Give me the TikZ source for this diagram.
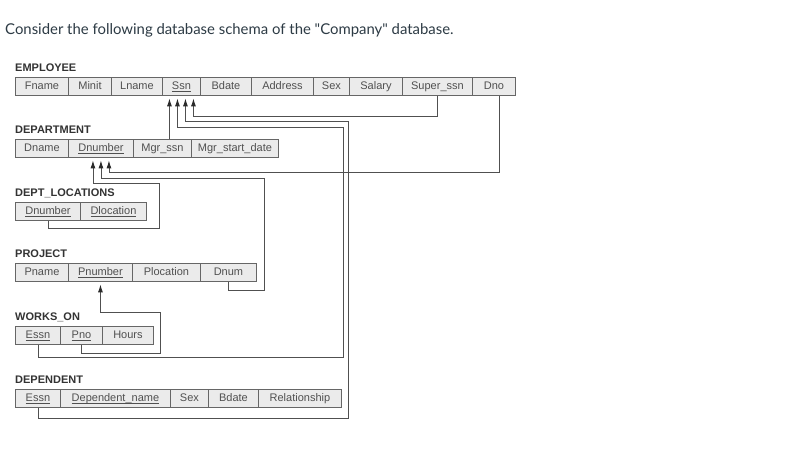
\documentclass[tikz,border=0pt]{standalone}
\usepackage{fontspec}
\setmainfont{Liberation Sans}
\newfontfamily\latofont{Lato}
\usetikzlibrary{arrows.meta,calc}
\definecolor{cellfill}{HTML}{EBEBEB}
\definecolor{cellline}{HTML}{666666}
\definecolor{celltext}{HTML}{505050}
\definecolor{linkcol}{HTML}{505050}
\definecolor{tipcol}{HTML}{2A2A2A}
\definecolor{labcol}{HTML}{333333}
\definecolor{titlecol}{HTML}{2D3B45}
\newcommand\ukey[1]{\setbox0\hbox{#1}\rlap{\rule[-2pt]{\wd0}{0.8pt}}\box0}
\tikzset{
  cell/.style={draw=cellline, fill=cellfill, line width=0.9pt, anchor=north west,
    minimum height=18pt, inner xsep=0pt, inner ysep=0pt, text height=8pt, text depth=1pt,
    font=\fontsize{11}{12}\selectfont, text=celltext},
  tlabel/.style={anchor=base west, inner sep=0pt, font=\fontsize{11}{12}\selectfont\bfseries, text=labcol},
  fk/.style={draw=linkcol, line width=0.9pt},
  fkarrow/.style={fk, -{Latex[length=8pt,width=5pt,color=tipcol]}, shorten >=2.5pt},
}
\begin{document}
\begin{tikzpicture}[x=1pt,y=-1pt]
\useasboundingbox[fill=white] (0,0) rectangle (798,475);
\node[anchor=base west, inner sep=0pt, font=\latofont\fontsize{14.9}{17}\selectfont, text=titlecol] (title) at (5,34) {Consider the following database schema of the "Company" database.};

% EMPLOYEE
\node[tlabel] (lemp) at (15,71) {EMPLOYEE};
\node[cell, minimum width=53pt] (efname) at (15,77) {Fname};
\node[cell, minimum width=43pt] (eminit) at (68,77) {Minit};
\node[cell, minimum width=51pt] (elname) at (111,77) {Lname};
\node[cell, minimum width=38pt] (essn) at (162,77) {\ukey{Ssn}};
\node[cell, minimum width=51pt] (ebdate) at (200,77) {Bdate};
\node[cell, minimum width=62pt] (eaddr) at (251,77) {Address};
\node[cell, minimum width=36pt] (esex) at (313,77) {Sex};
\node[cell, minimum width=53pt] (esal) at (349,77) {Salary};
\node[cell, minimum width=70pt] (esuper) at (402,77) {Super\_ssn};
\node[cell, minimum width=43pt] (edno) at (472,77) {Dno};

% DEPARTMENT
\node[tlabel] (ldep) at (15,133) {DEPARTMENT};
\node[cell, minimum width=53pt] (ddname) at (15,139) {Dname};
\node[cell, minimum width=65pt] (ddnum) at (68,139) {\ukey{Dnumber}};
\node[cell, minimum width=58pt] (dmgr) at (133,139) {Mgr\_ssn};
\node[cell, minimum width=87pt] (dstart) at (191,139) {Mgr\_start\_date};

% DEPT_LOCATIONS
\node[tlabel] (lloc) at (15,196) {DEPT\_LOCATIONS};
\node[cell, minimum width=65pt] (ldnum) at (15,202) {\ukey{Dnumber}};
\node[cell, minimum width=66pt] (lloca) at (80,202) {\ukey{Dlocation}};

% PROJECT
\node[tlabel] (lproj) at (15,257) {PROJECT};
\node[cell, minimum width=53pt] (ppname) at (15,263) {Pname};
\node[cell, minimum width=64pt] (ppnum) at (68,263) {\ukey{Pnumber}};
\node[cell, minimum width=68pt] (ploc) at (132,263) {Plocation};
\node[cell, minimum width=56pt] (pdnum) at (200,263) {Dnum};

% WORKS_ON
\node[tlabel] (lworks) at (15,320) {WORKS\_ON};
\node[cell, minimum width=45pt] (wessn) at (15,326) {\ukey{Essn}};
\node[cell, minimum width=42pt] (wpno) at (60,326) {\ukey{Pno}};
\node[cell, minimum width=51pt] (whours) at (102,326) {Hours};

% DEPENDENT
\node[tlabel] (ldepd) at (15,383) {DEPENDENT};
\node[cell, minimum width=45pt] (dessn) at (15,389) {\ukey{Essn}};
\node[cell, minimum width=110pt] (ddepname) at (60,389) {\ukey{Dependent\_name}};
\node[cell, minimum width=38pt] (dsex) at (170,389) {Sex};
\node[cell, minimum width=50pt] (dbdate) at (208,389) {Bdate};
\node[cell, minimum width=83pt] (drel) at (258,389) {Relationship};

% arrow attachment points
\coordinate (s1) at ($(essn.south)+(-12,0)$);
\coordinate (s2) at ($(essn.south)+(-4,0)$);
\coordinate (s3) at ($(essn.south)+(4,0)$);
\coordinate (s4) at ($(essn.south)+(12,0)$);
\coordinate (n1) at ($(ddnum.south)+(-8,0)$);
\coordinate (n2) at ($(ddnum.south)+(0,0)$);
\coordinate (n3) at ($(ddnum.south)+(8,0)$);
\coordinate (dnoout) at ($(edno.south)+(5,0)$);

% connectors
\draw[fkarrow] (s1 |- dmgr.north) -- (s1);
\draw[fkarrow] (wessn.south) -- (wessn.south |- 0,357) -- (343,357) -- (343,127) -- (s2 |- 0,127) -- (s2);
\draw[fkarrow] (dessn.south) -- (dessn.south |- 0,418) -- (348,418) -- (348,121) -- (s3 |- 0,121) -- (s3);
\draw[fkarrow] (esuper.south) -- (esuper.south |- 0,116) -- (s4 |- 0,116) -- (s4);
\draw[fkarrow] (dnoout) -- (dnoout |- 0,172) -- (n3 |- 0,172) -- (n3);
\draw[fkarrow] (pdnum.south) -- (pdnum.south |- 0,290) -- (264,290) -- (264,178) -- (n2 |- 0,178) -- (n2);
\draw[fkarrow] (ldnum.south) -- (ldnum.south |- 0,228) -- (159,228) -- (159,183) -- (n1 |- 0,183) -- (n1);
\draw[fkarrow] (wpno.south) -- (wpno.south |- 0,353) -- (160,353) -- (160,312) -- (ppnum.south |- 0,312) -- (ppnum.south);
\end{tikzpicture}
\end{document}
